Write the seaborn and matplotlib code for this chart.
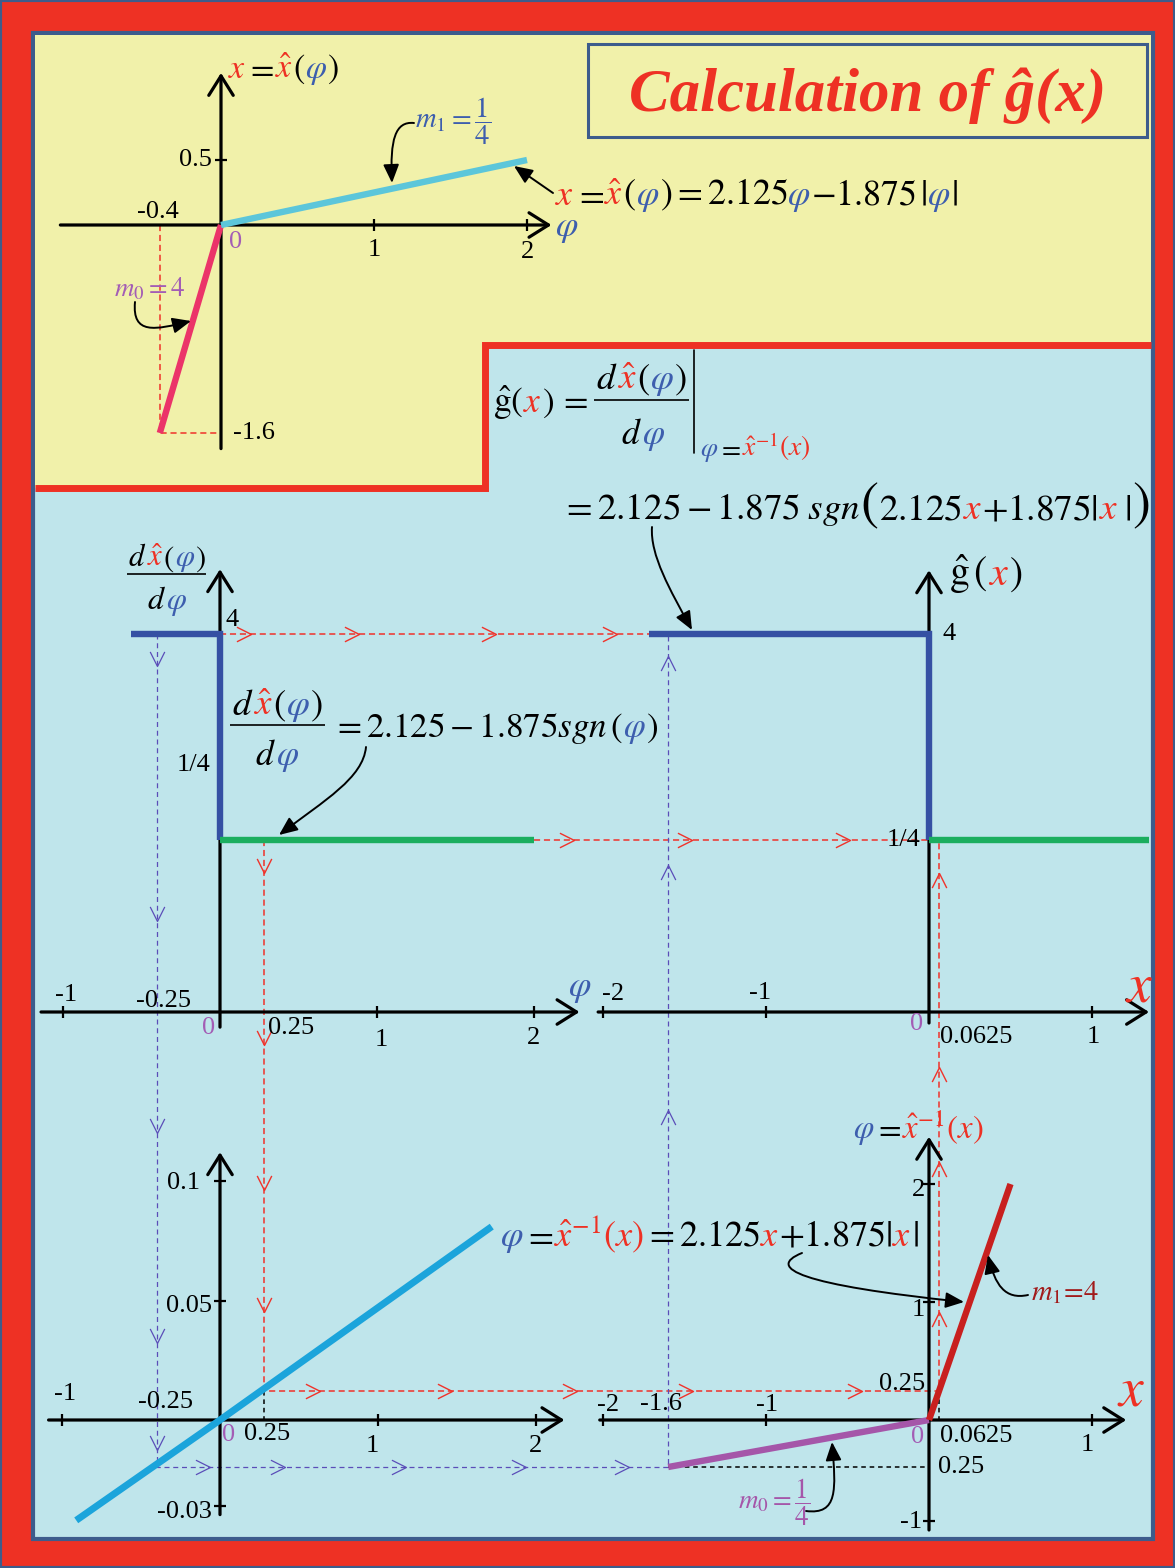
import numpy as np
import matplotlib
matplotlib.use("Agg")
import matplotlib.pyplot as plt
import seaborn as sns
from matplotlib.path import Path
from matplotlib.patches import Rectangle, Polygon, FancyArrowPatch

# ---------------- data ----------------
# x = x_hat(phi): slope 4 for phi<0, slope 1/4 for phi>0
phi_neg = [-0.4, 0.0]
xhat_neg = [-1.6, 0.0]
phi_pos = [0.0, 2.0]
xhat_pos = [0.0, 0.5]

# d x_hat / d phi
dphi_hi = [-0.57, 0.0, 0.0]
dval_hi = [4.0, 4.0, 0.25]
dphi_lo = [0.0, 2.0]
dval_lo = [0.25, 0.25]

# g_hat(x)
gx_hi = [-1.72, 0.0, 0.0]
gval_hi = [4.0, 4.0, 0.25]
gx_lo = [0.0, 1.35]
gval_lo = [0.25, 0.25]

# transfer line (lower left panel)
tr_phi = [-0.91, 0.0, 1.72]
tr_val = [-0.035, 0.0, 0.081]

# phi = x_hat^{-1}(x)
inv_x_neg = [-1.6, 0.0]
inv_phi_neg = [-0.4, 0.0]
inv_x_pos = [0.0, 0.5]
inv_phi_pos = [0.0, 2.0]

# probe values used in the graphical construction
probe_phi_neg, probe_phi_pos = -0.4, 0.28
probe_x_neg, probe_x_pos = -1.6, 0.0625
level_hi, level_lo = 4.0, 0.25
inv_level_neg, inv_level_pos = -0.4, 0.25

# ticks
A_xt, A_yt = [1, 2], [0.5]
B_xt = [-1, 1, 2]
C_xt = [-2, -1, 1]
D_xt, D_yt = [-1, 1, 2], [-0.03, 0.05, 0.1]
E_xt, E_yt = [-2, -1, 1], [-1, 1, 2]

# ---------------- style ----------------
K = "black"
RD = "#EE3124"
BL = "#3D5EAE"
PURP = "#A35DB5"
DRED = "#A11B1B"
FRAME_RED = "#EE3124"
FRAME_BLUE = "#3D5C8C"
YELLOW = "#F1F1AA"
LIGHTBLUE = "#BFE5EB"
STEP_BLUE = "#3550A3"
GREEN = "#1BAE5F"
CYAN_A = "#5CC6DA"
PINK = "#EB3469"
CYAN_D = "#1BA4DB"
RED_E = "#C8201F"
PURPLE_E = "#A556A9"
GUIDE_RED = "#F0322A"
GUIDE_PURPLE = "#5B4DB8"
TICK_FS = 19

sns.set_theme(style="white")
plt.rcParams["font.family"] = ["Liberation Serif", "DejaVu Serif"]
plt.rcParams["mathtext.fontset"] = "stix"

W, H = 1175, 1568
PX = 100 / 72.0
fig = plt.figure(figsize=(W / 100, H / 100), dpi=100)
fig.patch.set_facecolor(FRAME_RED)
R = fig.canvas.get_renderer()

# background canvas in pixel units
bg = fig.add_axes([0, 0, 1, 1])
bg.set_xlim(0, W)
bg.set_ylim(H, 0)
bg.axis("off")
bg.add_patch(Rectangle((0, 0), W, H, fc=FRAME_RED, ec=FRAME_BLUE, lw=3))
bg.add_patch(Rectangle((33, 33), 1120, 1506, fc=LIGHTBLUE, ec=FRAME_BLUE, lw=3))
bg.add_patch(Polygon([(35, 35), (1151, 35), (1151, 345), (485, 345), (485, 488), (35, 488)],
                     closed=True, fc=YELLOW, ec="none"))
bg.plot([1151, 485, 485, 35], [345, 345, 488, 488], color=FRAME_RED, lw=5,
        solid_joinstyle="miter", solid_capstyle="butt")
bg.add_patch(Rectangle((588, 44), 559, 93, fill=False, ec=FRAME_BLUE, lw=2.2))


def make_pw(dk, pk):
    dk = np.asarray(dk, float)
    pk = np.asarray(pk, float)

    def f(v, a, b):
        v = np.asarray(v, float)
        out = np.interp(v, a, b)
        s0 = (b[1] - b[0]) / (a[1] - a[0])
        s1 = (b[-1] - b[-2]) / (a[-1] - a[-2])
        out = np.where(v < a[0], b[0] + (v - a[0]) * s0, out)
        out = np.where(v > a[-1], b[-1] + (v - a[-1]) * s1, out)
        return out

    return (lambda v: f(v, dk, pk)), (lambda v: f(v, pk, dk))


GEOM = {
    "A": dict(o=(221, 225), sx=153, sy=130, xr=(-1.05, 2.16), yr=(-1.72, 1.17)),
    "B": dict(o=(220, 1012), sx=157, sy=([0, 0.25, 4], [0, 172, 378]), xr=(-1.14, 2.29), yr=(-0.022, 5.18)),
    "C": dict(o=(929, 1012), sx=163, sy=([0, 0.25, 4], [0, 172, 378]), xr=(-2.03, 1.35), yr=(-0.016, 5.16)),
    "D": dict(o=(220, 1420), sx=158, sy=([-0.03, 0, 0.05, 0.1], [-86, 0, 119, 239]), xr=(-1.085, 2.18), yr=(-0.033, 0.112)),
    "E": dict(o=(929, 1420), sx=163, sy=([-1, -0.4, 0, 1, 2], [-101, -47, 0, 118, 236]), xr=(-2.02, 1.21), yr=(-1.1, 2.4)),
}


def setup(ax, g):
    ox, oy = g["o"]
    sx, sy = g["sx"], g["sy"]
    if np.isscalar(sy):
        iy = lambda v, s=sy: np.asarray(v, float) / s
    else:
        fy, iy = make_pw(*sy)
        ax.set_yscale("function", functions=(fy, iy))
    ax.set_xlim(-ox / sx, (W - ox) / sx)
    ax.set_ylim(float(iy(oy - H)), float(iy(oy)))
    ax.set_facecolor("none")
    ax.axis("off")


AX_ARROW = dict(arrowstyle="->,head_length=0.35,head_width=0.22", lw=2.3, color=K,
                shrinkA=0, shrinkB=0, mutation_scale=40)


def draw_frame(ax, g, xt, yt, labels):
    ax.annotate("", xy=(g["xr"][1], 0), xytext=(g["xr"][0], 0), arrowprops=AX_ARROW)
    ax.annotate("", xy=(0, g["yr"][1]), xytext=(0, g["yr"][0]), arrowprops=AX_ARROW)
    if xt:
        ax.plot(xt, [0] * len(xt), ls="none", marker="|", ms=9, mew=1.6, color=K)
    if yt:
        ax.plot([0] * len(yt), yt, ls="none", marker="_", ms=9, mew=1.6, color=K)
    for s, x, y, dx, dy, ha, c in labels:
        ax.annotate(s, (x, y), xytext=(dx, dy), textcoords="offset pixels",
                    ha=ha, va="center", fontsize=TICK_FS, color=c)


def curve(ax, x, y, color, lw=4.6):
    sns.lineplot(x=x, y=y, ax=ax, color=color, linewidth=lw, sort=False, estimator=None,
                 solid_capstyle="butt", solid_joinstyle="miter", zorder=5)


# ---------------- panels ----------------
axA = fig.add_axes([0, 0, 1, 1])
curve(axA, phi_neg, xhat_neg, PINK)
curve(axA, phi_pos, xhat_pos, CYAN_A)
setup(axA, GEOM["A"])
axA.plot([phi_neg[0], phi_neg[0], 0], [0, xhat_neg[0], xhat_neg[0]], color=GUIDE_RED,
         lw=1.1, ls=(0, (4, 2.5)))
draw_frame(axA, GEOM["A"], A_xt, A_yt, [
    ("0.5", 0, 0.5, -9, 0, "right", K),
    ("-0.4", -0.4, 0, -2, 13, "center", K),
    ("0", 0, 0, 15, -17, "center", PURP),
    ("1", 1, 0, 0, -25, "center", K),
    ("2", 2, 0, 0, -27, "center", K),
    ("-1.6", 0, -1.6, 12, 0, "left", K),
])

axB = fig.add_axes([0, 0, 1, 1])
curve(axB, dphi_hi, dval_hi, STEP_BLUE)
curve(axB, dphi_lo, dval_lo, GREEN)
setup(axB, GEOM["B"])
draw_frame(axB, GEOM["B"], B_xt, None, [
    ("4", 0, 4, 6, 14, "left", K),
    ("1/4", 0, 0.25, -26, 75, "center", K),
    ("-1", -1, 0, 3, 17, "center", K),
    ("-0.25", -0.25, 0, -17, 11, "center", K),
    ("0", 0, 0, -11, -16, "center", PURP),
    ("0.25", 0.25, 0, 9, -16, "left", K),
    ("1", 1, 0, 4, -28, "center", K),
    ("2", 2, 0, 0, -26, "center", K),
])

axC = fig.add_axes([0, 0, 1, 1])
curve(axC, gx_hi, gval_hi, STEP_BLUE)
curve(axC, gx_lo, gval_lo, GREEN)
setup(axC, GEOM["C"])
draw_frame(axC, GEOM["C"], C_xt, None, [
    ("4", 0, 4, 13, 0, "left", K),
    ("1/4", 0, 0.25, -9, 0, "right", K),
    ("-2", -2, 0, 10, 18, "center", K),
    ("-1", -1, 0, -6, 19, "center", K),
    ("0", 0, 0, -12, -12, "center", PURP),
    ("0.0625", 0.0625, 0, 1, -25, "left", K),
    ("1", 1, 0, 1, -25, "center", K),
])

axD = fig.add_axes([0, 0, 1, 1])
curve(axD, tr_phi, tr_val, CYAN_D, lw=5)
setup(axD, GEOM["D"])
draw_frame(axD, GEOM["D"], D_xt, D_yt, [
    ("0.1", 0, 0.1, -20, -2, "right", K),
    ("0.05", 0, 0.05, -8, -5, "right", K),
    ("-0.03", 0, -0.03, -8, -6, "right", K),
    ("-1", -1, 0, 3, 26, "center", K),
    ("-0.25", -0.25, 0, -15, 18, "center", K),
    ("0", 0, 0, 9, -15, "center", PURP),
    ("0.25", 0.25, 0, 8, -14, "center", K),
    ("1", 1, 0, -6, -26, "center", K),
    ("2", 2, 0, 0, -26, "center", K),
])

axE = fig.add_axes([0, 0, 1, 1])
curve(axE, inv_x_neg, inv_phi_neg, PURPLE_E)
curve(axE, inv_x_pos, inv_phi_pos, RED_E)
setup(axE, GEOM["E"])
draw_frame(axE, GEOM["E"], E_xt, E_yt, [
    ("2", 0, 2, -4, -6, "right", K),
    ("1", 0, 1, -4, -8, "right", K),
    ("0.25", 0, 0.25, -4, 6, "right", K),
    ("-2", -2, 0, 5, 15, "center", K),
    ("-1.6", -1.6, 0, -7, 16, "center", K),
    ("-1", -1, 0, 1, 15, "center", K),
    ("0", 0, 0, -11, -17, "center", PURP),
    ("0.0625", 0.0625, 0, 1, -16, "left", K),
    ("1", 1, 0, -5, -25, "center", K),
    ("0.25", 0, -0.4, 9, 0, "left", K),
    ("-1", 0, -1, -7, -1, "right", K),
])


# ---------------- construction guides (on the background canvas) ----------------
def P(ax, x, y):
    return tuple(bg.transData.inverted().transform(ax.transData.transform((x, y))))


def chevron(direction):
    # marker paths live in screen space (y up); the tip sits at (0, 0)
    pts = {"right": [(-1, 0.5), (0, 0), (-1, -0.5)],
           "down": [(-0.5, 1), (0, 0), (0.5, 1)],
           "up": [(-0.5, -1), (0, 0), (0.5, -1)]}[direction]
    return Path(pts, [Path.MOVETO, Path.LINETO, Path.LINETO])


def guide(points, color, lw, dash):
    xs, ys = zip(*points)
    bg.plot(xs, ys, color=color, lw=lw, ls=(0, dash))


def marks(a, b, fracs, direction, color, mew=1.0):
    xs = [a[0] + t * (b[0] - a[0]) for t in fracs]
    ys = [a[1] + t * (b[1] - a[1]) for t in fracs]
    bg.plot(xs, ys, ls="none", marker=chevron(direction), ms=21, mfc="none", mec=color, mew=mew)


CHEV_R1 = [0.073, 0.324, 0.643, 0.927]
CHEV_R2 = [0.10, 0.40, 0.80]
CHEV_R3_down = [0.06, 0.373, 0.636, 0.858]
CHEV_R3_right = [0.083, 0.279, 0.464, 0.636, 0.886]
CHEV_R3_up = [0.142, 0.415, 0.587, 0.94]
CHEV_P_down = [0.039, 0.344, 0.599, 0.851, 0.979]
CHEV_P_right = [0.103, 0.25, 0.486, 0.721, 0.924]
CHEV_P_up = [0.429, 0.723, 0.973]

RDASH = (4, 2.5)
PDASH = (4, 3)

# top level: 4 carried from derivative to g_hat
r1a, r1b = P(axB, 0, level_hi), P(axC, gx_hi[0], level_hi)
guide([r1a, r1b], GUIDE_RED, 1.1, RDASH)
marks(r1a, r1b, CHEV_R1, "right", GUIDE_RED)

# bottom level: 1/4 carried from derivative to g_hat
r2a, r2b = P(axB, dphi_lo[-1], level_lo), P(axC, 0, level_lo)
guide([r2a, r2b], GUIDE_RED, 1.1, RDASH)
marks(r2a, r2b, CHEV_R2, "right", GUIDE_RED)

# positive probe
p1 = P(axB, probe_phi_pos, level_lo)
yt_pos = P(axE, 0, inv_level_pos)[1]
xt_pos = P(axE, probe_x_pos, 0)[0]
p2 = (p1[0], yt_pos)
p3 = (xt_pos, yt_pos)
p4 = (xt_pos, P(axC, 0, level_lo)[1])
guide([p1, p2, p3, p4], GUIDE_RED, 1.1, RDASH)
marks(p1, p2, CHEV_R3_down, "down", GUIDE_RED)
marks(p2, p3, CHEV_R3_right, "right", GUIDE_RED)
marks(p3, p4, CHEV_R3_up, "up", GUIDE_RED)
guide([p2, (p1[0], P(axD, 0, 0)[1])], K, 1.1, (3, 2.5))
guide([p3, (xt_pos, P(axE, 0, 0)[1])], K, 1.1, (3, 2.5))

# negative probe
q1 = P(axB, probe_phi_neg, level_hi)
yt_neg = P(axE, 0, inv_level_neg)[1]
xt_neg = P(axE, probe_x_neg, 0)[0]
q2 = (q1[0], yt_neg)
q3 = (xt_neg, yt_neg)
q4 = (xt_neg, P(axC, 0, level_hi)[1])
guide([q1, q2, q3, q4], GUIDE_PURPLE, 0.9, PDASH)
marks(q1, q2, CHEV_P_down, "down", GUIDE_PURPLE, 0.9)
marks(q2, q3, CHEV_P_right, "right", GUIDE_PURPLE, 0.9)
marks(q3, q4, CHEV_P_up, "up", GUIDE_PURPLE, 0.9)
guide([q3, P(axE, 0, inv_level_neg)], K, 1.1, (3, 2.5))

# ---------------- text overlay ----------------
top = fig.add_axes([0, 0, 1, 1])
top.set_xlim(0, W)
top.set_ylim(H, 0)
top.axis("off")


def rich(x, yc, pieces, size, ha="left", width=None):
    def lay(sz):
        arts, cur = [], 0.0
        base = yc + 0.33 * sz * PX
        for p in pieces:
            s, c = p[0], p[1]
            k = p[2] if len(p) > 2 else 1.0
            t = top.text(0, base, s, color=c, fontsize=sz * k, ha="left", va="baseline")
            w = t.get_window_extent(R).width
            arts.append((t, cur))
            cur += w
        return arts, cur

    arts, tot = lay(size)
    if width:
        for t, _ in arts:
            t.remove()
        size = size * width / tot
        arts, tot = lay(size)
    x0 = x - {"left": 0, "center": tot / 2, "right": tot}[ha]
    for t, off in arts:
        t.set_x(x0 + off)
    return size


def bar(x0, x1, y):
    top.plot([x0, x1], [y, y], color=K, lw=1.2, solid_capstyle="butt")


# title
tt = top.text(868, 96, "Calculation of ĝ(x)", fontsize=40, fontweight="bold",
              fontstyle="italic", color=RD, ha="center", va="center")
tt.set_fontsize(40 * 476 / tt.get_window_extent(R).width)

NUM = [(r"$d$", K), (r"$\hat{x}$", RD), (r"$($", K), (r"$\varphi$", BL), (r"$)$", K)]
DEN = [(r"$d$", K), (r"$\varphi$", BL)]

# top panel texts
rich(228, 67, [(r"$x$", RD), (r"$=$", K), (r"$\hat{x}$", RD), (r"$($", K),
               (r"$\varphi$", BL), (r"$)$", K)], 24, width=111)
top.text(567, 228, r"$\varphi$", color=BL, fontsize=26, ha="center", va="center")
rich(555, 193, [(r"$x$", RD), (r"$=$", K), (r"$\hat{x}$", RD), (r"$($", K),
                (r"$\varphi$", BL), (r"$)=2.125\,$", K), (r"$\varphi$", BL),
                (r"$-1.875\,|$", K), (r"$\varphi$", BL), (r"$|$", K)], 25, width=403)
rich(415, 118, [(r"$m_1=\dfrac{1}{4}$", BL)], 22, width=76)
rich(114, 287, [(r"$m_0=4$", PURP)], 21, width=71)

# derivative panel texts
rich(167, 556, NUM, 22, ha="center", width=77)
bar(127, 206, 574)
rich(167, 598, DEN, 22, ha="center", width=40)
top.text(580, 988, r"$\varphi$", color=BL, fontsize=26, ha="center", va="center")
rich(277, 703, NUM, 25, ha="center", width=91)
bar(230, 325, 725)
rich(277, 753, DEN, 25, ha="center", width=44)
rich(332, 725, [(r"$=2.125-1.875sgn\,($", K), (r"$\varphi$", BL), (r"$)$", K)], 25, width=326)

# definition of g_hat
rich(493, 400, [(r"$\hat{\mathrm{g}}($", K), (r"$x$", RD), (r"$)\,=$", K)], 25, width=95)
rich(641, 377, NUM, 25, ha="center", width=91)
bar(594, 689, 400)
rich(643, 432, DEN, 25, ha="center", width=44)
top.plot([693.5, 693.5], [350, 453], color=K, lw=1.2)
rich(700, 447, [(r"$\varphi$", BL), (r"$=$", K), (r"$\hat{x}^{-1}(x)$", RD)], 20, width=110)
rich(561, 507, [(r"$=2.125-1.875\;sgn\,$", K), (r"$($", K, 1.45), (r"$2.125\;$", K),
                (r"$x$", RD), (r"$+1.875|\;$", K), (r"$x$", RD), (r"$\;|$", K),
                (r"$)$", K, 1.45)], 25, width=590)

# g_hat panel
rich(949, 572, [(r"$\hat{\mathrm{g}}\,($", K), (r"$x$", RD), (r"$)$", K)], 26, width=74)
top.text(1139, 987, r"$x$", color=RD, fontsize=40, ha="center", va="center")

# inverse panel
rich(500, 1234, [(r"$\varphi$", BL), (r"$=$", K), (r"$\hat{x}^{-1}(x)$", RD),
                 (r"$=2.125\,$", K), (r"$x$", RD), (r"$+1.875|$", K),
                 (r"$x$", RD), (r"$|$", K)], 25, width=420)
rich(853, 1127, [(r"$\varphi$", BL), (r"$=$", K), (r"$\hat{x}^{-1}(x)$", RD)], 26, width=130)
top.text(1131, 1392, r"$x$", color=RD, fontsize=40, ha="center", va="center")
rich(1031, 1291, [(r"$m_1\!=\!4$", DRED)], 24, width=68)
rich(738, 1500, [(r"$m_0=\dfrac{1}{4}$", PURPLE_E)], 22, width=72)

# pointer arrows
POINTERS = [
    [(414, 123), (395, 121), (390, 140), (392, 183)],
    [(135, 302), (132, 335), (155, 330), (191, 321)],
    [(553, 193), (540, 184), (527, 175), (514, 166)],
    [(366, 747), (363, 778), (325, 800), (279, 835)],
    [(652, 527), (650, 555), (670, 590), (692, 630)],
    [(802, 1253), (765, 1268), (800, 1285), (964, 1302)],
    [(1028, 1295), (1005, 1300), (995, 1285), (988, 1255)],
    [(806, 1511), (838, 1515), (836, 1490), (832, 1442)],
]
for v in POINTERS:
    pth = Path(v, [Path.MOVETO, Path.CURVE4, Path.CURVE4, Path.CURVE4])
    top.add_patch(FancyArrowPatch(path=pth, arrowstyle="-|>,head_length=0.7,head_width=0.3",
                                  mutation_scale=16, lw=1.4, color=K,
                                  transform=top.transData, shrinkA=0, shrinkB=0))

fig.savefig("out.png", dpi=100, facecolor=fig.get_facecolor())
